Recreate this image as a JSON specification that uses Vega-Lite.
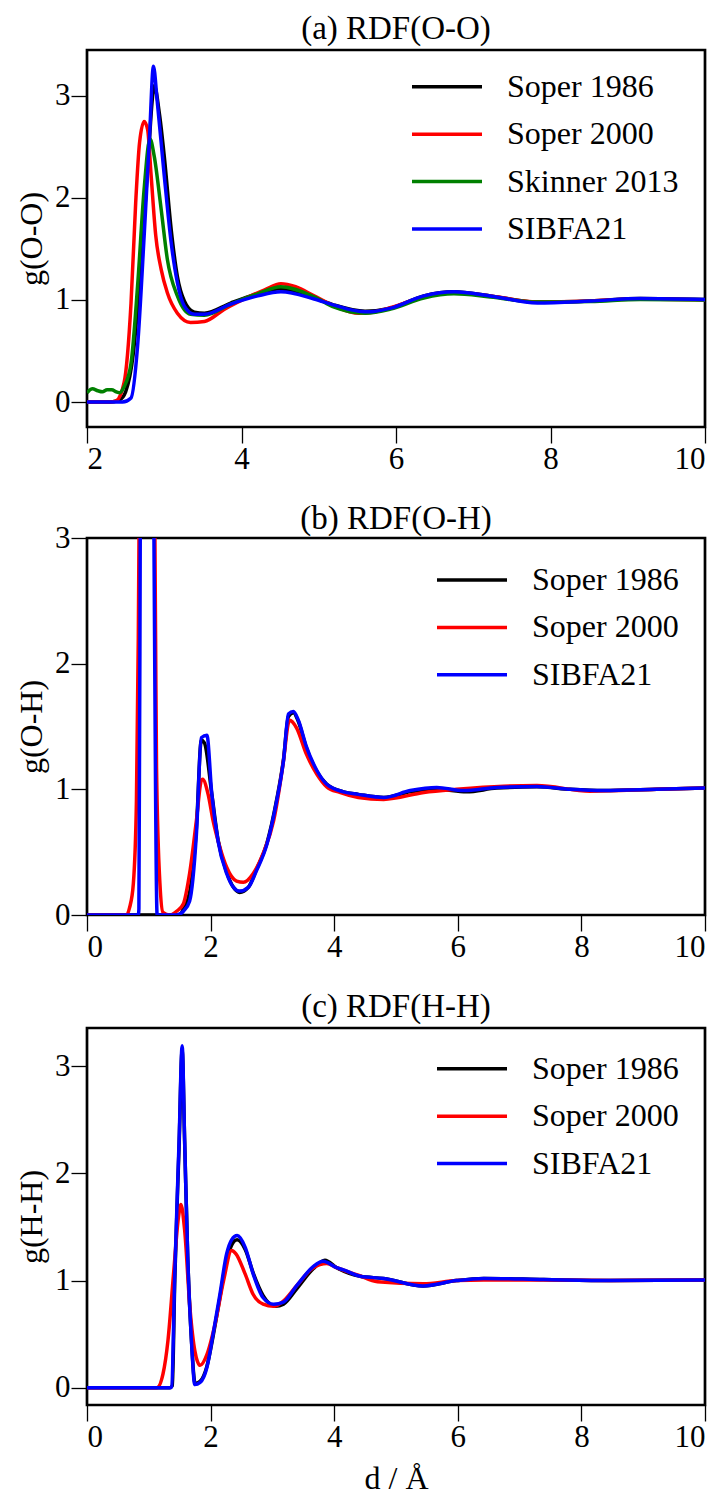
{
  "$schema": "https://vega.github.io/schema/vega-lite/v6.json",
  "background": "white",
  "padding": {"left": 14, "top": 11, "right": 4, "bottom": 0},
  "spacing": 25,
  "resolve": {"scale": {"color": "independent"}, "legend": {"color": "independent"}},
  "config": {
    "font": "Liberation Serif",
    "view": {"stroke": "black", "strokeWidth": 2.7},
    "axis": {"grid": false, "domain": false, "tickColor": "black", "tickWidth": 1.3, "tickSize": 16, "labelFont": "Liberation Serif", "labelFontSize": 31, "labelColor": "black", "labelPadding": 1, "titleFont": "Liberation Serif", "titleFontSize": 32, "titleFontWeight": "normal", "titleColor": "black", "titlePadding": 6},
    "title": {"font": "Liberation Serif", "fontSize": 33, "fontWeight": "normal", "color": "black", "offset": 4, "frame": "group"},
    "legend": {"symbolType": "M-1.4,0L1.4,0", "symbolSize": 2500, "symbolStrokeWidth": 3.5, "labelFont": "Liberation Serif", "labelFontSize": 32, "labelColor": "black", "labelOffset": 33, "labelLimit": 0, "rowPadding": 4.4, "padding": 0}
  },
  "datasets": {
    "oo": [
      {"s": "Soper 1986", "d": 2.0, "g": 0}, {"s": "Soper 1986", "d": 2.3, "g": 0}, {"s": "Soper 1986", "d": 2.42, "g": 0.02}, {"s": "Soper 1986", "d": 2.5, "g": 0.1}, {"s": "Soper 1986", "d": 2.6, "g": 0.48}, {"s": "Soper 1986", "d": 2.7, "g": 1.37}, {"s": "Soper 1986", "d": 2.79, "g": 2.35}, {"s": "Soper 1986", "d": 2.85, "g": 3.0}, {"s": "Soper 1986", "d": 2.87, "g": 3.1}, {"s": "Soper 1986", "d": 2.94, "g": 2.81}, {"s": "Soper 1986", "d": 3.0, "g": 2.41}, {"s": "Soper 1986", "d": 3.09, "g": 1.69}, {"s": "Soper 1986", "d": 3.17, "g": 1.23}, {"s": "Soper 1986", "d": 3.26, "g": 0.99}, {"s": "Soper 1986", "d": 3.39, "g": 0.88}, {"s": "Soper 1986", "d": 3.52, "g": 0.87}, {"s": "Soper 1986", "d": 3.86, "g": 0.97}, {"s": "Soper 1986", "d": 4.21, "g": 1.06}, {"s": "Soper 1986", "d": 4.5, "g": 1.11}, {"s": "Soper 1986", "d": 4.94, "g": 1.02}, {"s": "Soper 1986", "d": 5.2, "g": 0.95}, {"s": "Soper 1986", "d": 5.6, "g": 0.89}, {"s": "Soper 1986", "d": 5.93, "g": 0.92}, {"s": "Soper 1986", "d": 6.36, "g": 1.04}, {"s": "Soper 1986", "d": 6.75, "g": 1.08}, {"s": "Soper 1986", "d": 7.22, "g": 1.04}, {"s": "Soper 1986", "d": 7.83, "g": 0.98}, {"s": "Soper 1986", "d": 8.52, "g": 0.99}, {"s": "Soper 1986", "d": 9.16, "g": 1.015}, {"s": "Soper 1986", "d": 10.0, "g": 1.005},
      {"s": "Soper 2000", "d": 2.0, "g": 0}, {"s": "Soper 2000", "d": 2.3, "g": 0}, {"s": "Soper 2000", "d": 2.375, "g": 0.01}, {"s": "Soper 2000", "d": 2.48, "g": 0.19}, {"s": "Soper 2000", "d": 2.57, "g": 0.97}, {"s": "Soper 2000", "d": 2.63, "g": 1.95}, {"s": "Soper 2000", "d": 2.68, "g": 2.54}, {"s": "Soper 2000", "d": 2.74, "g": 2.75}, {"s": "Soper 2000", "d": 2.785, "g": 2.67}, {"s": "Soper 2000", "d": 2.83, "g": 2.22}, {"s": "Soper 2000", "d": 2.89, "g": 1.63}, {"s": "Soper 2000", "d": 2.96, "g": 1.3}, {"s": "Soper 2000", "d": 3.04, "g": 1.07}, {"s": "Soper 2000", "d": 3.17, "g": 0.87}, {"s": "Soper 2000", "d": 3.34, "g": 0.78}, {"s": "Soper 2000", "d": 3.52, "g": 0.79}, {"s": "Soper 2000", "d": 3.78, "g": 0.91}, {"s": "Soper 2000", "d": 4.12, "g": 1.04}, {"s": "Soper 2000", "d": 4.3, "g": 1.1}, {"s": "Soper 2000", "d": 4.51, "g": 1.16}, {"s": "Soper 2000", "d": 4.7, "g": 1.13}, {"s": "Soper 2000", "d": 4.94, "g": 1.04}, {"s": "Soper 2000", "d": 5.2, "g": 0.94}, {"s": "Soper 2000", "d": 5.52, "g": 0.87}, {"s": "Soper 2000", "d": 5.7, "g": 0.88}, {"s": "Soper 2000", "d": 5.95, "g": 0.93}, {"s": "Soper 2000", "d": 6.36, "g": 1.03}, {"s": "Soper 2000", "d": 6.75, "g": 1.07}, {"s": "Soper 2000", "d": 7.22, "g": 1.04}, {"s": "Soper 2000", "d": 7.83, "g": 0.98}, {"s": "Soper 2000", "d": 8.52, "g": 0.99}, {"s": "Soper 2000", "d": 9.16, "g": 1.01}, {"s": "Soper 2000", "d": 10.0, "g": 1.0},
      {"s": "Skinner 2013", "d": 2.0, "g": 0.09}, {"s": "Skinner 2013", "d": 2.07, "g": 0.13}, {"s": "Skinner 2013", "d": 2.14, "g": 0.11}, {"s": "Skinner 2013", "d": 2.2, "g": 0.1}, {"s": "Skinner 2013", "d": 2.26, "g": 0.12}, {"s": "Skinner 2013", "d": 2.32, "g": 0.12}, {"s": "Skinner 2013", "d": 2.38, "g": 0.1}, {"s": "Skinner 2013", "d": 2.42, "g": 0.09}, {"s": "Skinner 2013", "d": 2.48, "g": 0.15}, {"s": "Skinner 2013", "d": 2.57, "g": 0.38}, {"s": "Skinner 2013", "d": 2.655, "g": 1.14}, {"s": "Skinner 2013", "d": 2.74, "g": 2.09}, {"s": "Skinner 2013", "d": 2.815, "g": 2.58}, {"s": "Skinner 2013", "d": 2.87, "g": 2.41}, {"s": "Skinner 2013", "d": 2.96, "g": 1.89}, {"s": "Skinner 2013", "d": 3.04, "g": 1.4}, {"s": "Skinner 2013", "d": 3.17, "g": 1.04}, {"s": "Skinner 2013", "d": 3.34, "g": 0.86}, {"s": "Skinner 2013", "d": 3.52, "g": 0.85}, {"s": "Skinner 2013", "d": 3.86, "g": 0.96}, {"s": "Skinner 2013", "d": 4.21, "g": 1.06}, {"s": "Skinner 2013", "d": 4.51, "g": 1.13}, {"s": "Skinner 2013", "d": 4.94, "g": 1.03}, {"s": "Skinner 2013", "d": 5.2, "g": 0.93}, {"s": "Skinner 2013", "d": 5.6, "g": 0.87}, {"s": "Skinner 2013", "d": 5.93, "g": 0.91}, {"s": "Skinner 2013", "d": 6.36, "g": 1.02}, {"s": "Skinner 2013", "d": 6.75, "g": 1.06}, {"s": "Skinner 2013", "d": 7.22, "g": 1.03}, {"s": "Skinner 2013", "d": 7.83, "g": 0.98}, {"s": "Skinner 2013", "d": 8.52, "g": 0.985}, {"s": "Skinner 2013", "d": 9.16, "g": 1.005}, {"s": "Skinner 2013", "d": 10.0, "g": 1.0},
      {"s": "SIBFA21", "d": 2.0, "g": 0}, {"s": "SIBFA21", "d": 2.46, "g": 0}, {"s": "SIBFA21", "d": 2.57, "g": 0.04}, {"s": "SIBFA21", "d": 2.655, "g": 0.55}, {"s": "SIBFA21", "d": 2.74, "g": 1.63}, {"s": "SIBFA21", "d": 2.81, "g": 2.61}, {"s": "SIBFA21", "d": 2.86, "g": 3.29}, {"s": "SIBFA21", "d": 2.91, "g": 2.94}, {"s": "SIBFA21", "d": 3.0, "g": 2.22}, {"s": "SIBFA21", "d": 3.09, "g": 1.56}, {"s": "SIBFA21", "d": 3.17, "g": 1.17}, {"s": "SIBFA21", "d": 3.26, "g": 0.94}, {"s": "SIBFA21", "d": 3.39, "g": 0.86}, {"s": "SIBFA21", "d": 3.52, "g": 0.86}, {"s": "SIBFA21", "d": 3.86, "g": 0.96}, {"s": "SIBFA21", "d": 4.21, "g": 1.04}, {"s": "SIBFA21", "d": 4.51, "g": 1.08}, {"s": "SIBFA21", "d": 4.94, "g": 1.01}, {"s": "SIBFA21", "d": 5.2, "g": 0.95}, {"s": "SIBFA21", "d": 5.52, "g": 0.89}, {"s": "SIBFA21", "d": 5.67, "g": 0.885}, {"s": "SIBFA21", "d": 5.93, "g": 0.92}, {"s": "SIBFA21", "d": 6.36, "g": 1.04}, {"s": "SIBFA21", "d": 6.75, "g": 1.08}, {"s": "SIBFA21", "d": 7.22, "g": 1.04}, {"s": "SIBFA21", "d": 7.83, "g": 0.97}, {"s": "SIBFA21", "d": 8.52, "g": 0.99}, {"s": "SIBFA21", "d": 9.16, "g": 1.015}, {"s": "SIBFA21", "d": 10.0, "g": 1.005}
    ],
    "oh": [
      {"s": "Soper 1986", "d": 0, "g": 0}, {"s": "Soper 1986", "d": 1.5, "g": 0}, {"s": "Soper 1986", "d": 1.56, "g": 0.05}, {"s": "Soper 1986", "d": 1.66, "g": 0.18}, {"s": "Soper 1986", "d": 1.77, "g": 0.69}, {"s": "Soper 1986", "d": 1.85, "g": 1.39}, {"s": "Soper 1986", "d": 1.9, "g": 1.37}, {"s": "Soper 1986", "d": 2.02, "g": 0.96}, {"s": "Soper 1986", "d": 2.12, "g": 0.6}, {"s": "Soper 1986", "d": 2.26, "g": 0.34}, {"s": "Soper 1986", "d": 2.37, "g": 0.22}, {"s": "Soper 1986", "d": 2.47, "g": 0.18}, {"s": "Soper 1986", "d": 2.61, "g": 0.22}, {"s": "Soper 1986", "d": 2.74, "g": 0.36}, {"s": "Soper 1986", "d": 2.91, "g": 0.57}, {"s": "Soper 1986", "d": 3.07, "g": 0.92}, {"s": "Soper 1986", "d": 3.18, "g": 1.24}, {"s": "Soper 1986", "d": 3.26, "g": 1.58}, {"s": "Soper 1986", "d": 3.34, "g": 1.61}, {"s": "Soper 1986", "d": 3.42, "g": 1.54}, {"s": "Soper 1986", "d": 3.55, "g": 1.33}, {"s": "Soper 1986", "d": 3.72, "g": 1.14}, {"s": "Soper 1986", "d": 3.88, "g": 1.04}, {"s": "Soper 1986", "d": 4.15, "g": 0.98}, {"s": "Soper 1986", "d": 4.39, "g": 0.96}, {"s": "Soper 1986", "d": 4.8, "g": 0.935}, {"s": "Soper 1986", "d": 5.23, "g": 0.98}, {"s": "Soper 1986", "d": 5.66, "g": 1.0}, {"s": "Soper 1986", "d": 6.14, "g": 0.98}, {"s": "Soper 1986", "d": 6.63, "g": 1.01}, {"s": "Soper 1986", "d": 7.28, "g": 1.02}, {"s": "Soper 1986", "d": 7.82, "g": 1.0}, {"s": "Soper 1986", "d": 8.36, "g": 0.99}, {"s": "Soper 1986", "d": 9.22, "g": 1.0}, {"s": "Soper 1986", "d": 10.0, "g": 1.01},
      {"s": "Soper 2000", "d": 0, "g": 0}, {"s": "Soper 2000", "d": 0.64, "g": 0}, {"s": "Soper 2000", "d": 0.69, "g": 0.06}, {"s": "Soper 2000", "d": 0.75, "g": 0.25}, {"s": "Soper 2000", "d": 0.8, "g": 0.91}, {"s": "Soper 2000", "d": 0.83, "g": 2.2}, {"s": "Soper 2000", "d": 0.85, "g": 3.6}, {"s": "Soper 2000", "d": 0.95, "g": 9}, {"s": "Soper 2000", "d": 1.09, "g": 3.6}, {"s": "Soper 2000", "d": 1.11, "g": 2.2}, {"s": "Soper 2000", "d": 1.125, "g": 1.17}, {"s": "Soper 2000", "d": 1.18, "g": 0.25}, {"s": "Soper 2000", "d": 1.23, "g": 0.02}, {"s": "Soper 2000", "d": 1.34, "g": 0}, {"s": "Soper 2000", "d": 1.45, "g": 0.03}, {"s": "Soper 2000", "d": 1.56, "g": 0.09}, {"s": "Soper 2000", "d": 1.66, "g": 0.33}, {"s": "Soper 2000", "d": 1.77, "g": 0.75}, {"s": "Soper 2000", "d": 1.85, "g": 1.07}, {"s": "Soper 2000", "d": 1.87, "g": 1.08}, {"s": "Soper 2000", "d": 1.96, "g": 0.96}, {"s": "Soper 2000", "d": 2.04, "g": 0.75}, {"s": "Soper 2000", "d": 2.15, "g": 0.54}, {"s": "Soper 2000", "d": 2.26, "g": 0.38}, {"s": "Soper 2000", "d": 2.42, "g": 0.27}, {"s": "Soper 2000", "d": 2.53, "g": 0.26}, {"s": "Soper 2000", "d": 2.69, "g": 0.33}, {"s": "Soper 2000", "d": 2.85, "g": 0.49}, {"s": "Soper 2000", "d": 3.02, "g": 0.75}, {"s": "Soper 2000", "d": 3.18, "g": 1.23}, {"s": "Soper 2000", "d": 3.26, "g": 1.53}, {"s": "Soper 2000", "d": 3.28, "g": 1.55}, {"s": "Soper 2000", "d": 3.39, "g": 1.49}, {"s": "Soper 2000", "d": 3.55, "g": 1.28}, {"s": "Soper 2000", "d": 3.72, "g": 1.12}, {"s": "Soper 2000", "d": 3.88, "g": 1.02}, {"s": "Soper 2000", "d": 4.09, "g": 0.975}, {"s": "Soper 2000", "d": 4.39, "g": 0.935}, {"s": "Soper 2000", "d": 4.8, "g": 0.92}, {"s": "Soper 2000", "d": 5.45, "g": 0.975}, {"s": "Soper 2000", "d": 5.98, "g": 1.0}, {"s": "Soper 2000", "d": 6.74, "g": 1.025}, {"s": "Soper 2000", "d": 7.28, "g": 1.03}, {"s": "Soper 2000", "d": 8.14, "g": 0.985}, {"s": "Soper 2000", "d": 9.22, "g": 1.0}, {"s": "Soper 2000", "d": 10.0, "g": 1.01},
      {"s": "SIBFA21", "d": 0, "g": 0}, {"s": "SIBFA21", "d": 0.83, "g": 0}, {"s": "SIBFA21", "d": 0.84, "g": 0.05}, {"s": "SIBFA21", "d": 0.865, "g": 3.6}, {"s": "SIBFA21", "d": 0.96, "g": 12}, {"s": "SIBFA21", "d": 1.075, "g": 3.6}, {"s": "SIBFA21", "d": 1.135, "g": 0.0}, {"s": "SIBFA21", "d": 1.45, "g": 0}, {"s": "SIBFA21", "d": 1.56, "g": 0.03}, {"s": "SIBFA21", "d": 1.66, "g": 0.11}, {"s": "SIBFA21", "d": 1.77, "g": 0.64}, {"s": "SIBFA21", "d": 1.85, "g": 1.41}, {"s": "SIBFA21", "d": 1.94, "g": 1.43}, {"s": "SIBFA21", "d": 2.02, "g": 0.96}, {"s": "SIBFA21", "d": 2.12, "g": 0.59}, {"s": "SIBFA21", "d": 2.26, "g": 0.33}, {"s": "SIBFA21", "d": 2.37, "g": 0.22}, {"s": "SIBFA21", "d": 2.47, "g": 0.19}, {"s": "SIBFA21", "d": 2.61, "g": 0.22}, {"s": "SIBFA21", "d": 2.74, "g": 0.35}, {"s": "SIBFA21", "d": 2.91, "g": 0.56}, {"s": "SIBFA21", "d": 3.07, "g": 0.91}, {"s": "SIBFA21", "d": 3.18, "g": 1.23}, {"s": "SIBFA21", "d": 3.26, "g": 1.6}, {"s": "SIBFA21", "d": 3.34, "g": 1.62}, {"s": "SIBFA21", "d": 3.42, "g": 1.55}, {"s": "SIBFA21", "d": 3.55, "g": 1.34}, {"s": "SIBFA21", "d": 3.72, "g": 1.15}, {"s": "SIBFA21", "d": 3.88, "g": 1.04}, {"s": "SIBFA21", "d": 4.15, "g": 0.98}, {"s": "SIBFA21", "d": 4.39, "g": 0.96}, {"s": "SIBFA21", "d": 4.8, "g": 0.935}, {"s": "SIBFA21", "d": 5.23, "g": 0.99}, {"s": "SIBFA21", "d": 5.66, "g": 1.015}, {"s": "SIBFA21", "d": 6.09, "g": 0.99}, {"s": "SIBFA21", "d": 6.63, "g": 1.015}, {"s": "SIBFA21", "d": 7.28, "g": 1.023}, {"s": "SIBFA21", "d": 7.82, "g": 1.0}, {"s": "SIBFA21", "d": 8.36, "g": 0.99}, {"s": "SIBFA21", "d": 9.22, "g": 1.0}, {"s": "SIBFA21", "d": 10.0, "g": 1.01}
    ],
    "hh": [
      {"s": "Soper 1986", "d": 0, "g": 0}, {"s": "Soper 1986", "d": 1.34, "g": 0}, {"s": "Soper 1986", "d": 1.38, "g": 0.02}, {"s": "Soper 1986", "d": 1.42, "g": 1.0}, {"s": "Soper 1986", "d": 1.49, "g": 2.25}, {"s": "Soper 1986", "d": 1.54, "g": 3.15}, {"s": "Soper 1986", "d": 1.58, "g": 2.3}, {"s": "Soper 1986", "d": 1.63, "g": 1.22}, {"s": "Soper 1986", "d": 1.69, "g": 0.45}, {"s": "Soper 1986", "d": 1.75, "g": 0.04}, {"s": "Soper 1986", "d": 1.83, "g": 0.06}, {"s": "Soper 1986", "d": 1.94, "g": 0.2}, {"s": "Soper 1986", "d": 2.04, "g": 0.48}, {"s": "Soper 1986", "d": 2.15, "g": 0.84}, {"s": "Soper 1986", "d": 2.26, "g": 1.2}, {"s": "Soper 1986", "d": 2.34, "g": 1.33}, {"s": "Soper 1986", "d": 2.43, "g": 1.38}, {"s": "Soper 1986", "d": 2.56, "g": 1.29}, {"s": "Soper 1986", "d": 2.69, "g": 1.07}, {"s": "Soper 1986", "d": 2.85, "g": 0.86}, {"s": "Soper 1986", "d": 3.05, "g": 0.76}, {"s": "Soper 1986", "d": 3.18, "g": 0.78}, {"s": "Soper 1986", "d": 3.39, "g": 0.92}, {"s": "Soper 1986", "d": 3.66, "g": 1.11}, {"s": "Soper 1986", "d": 3.85, "g": 1.19}, {"s": "Soper 1986", "d": 4.04, "g": 1.12}, {"s": "Soper 1986", "d": 4.42, "g": 1.04}, {"s": "Soper 1986", "d": 4.8, "g": 1.02}, {"s": "Soper 1986", "d": 5.44, "g": 0.95}, {"s": "Soper 1986", "d": 5.98, "g": 1.0}, {"s": "Soper 1986", "d": 6.42, "g": 1.02}, {"s": "Soper 1986", "d": 7.39, "g": 1.01}, {"s": "Soper 1986", "d": 8.47, "g": 1.0}, {"s": "Soper 1986", "d": 10.0, "g": 1.005},
      {"s": "Soper 2000", "d": 0, "g": 0}, {"s": "Soper 2000", "d": 1.13, "g": 0}, {"s": "Soper 2000", "d": 1.23, "g": 0.13}, {"s": "Soper 2000", "d": 1.31, "g": 0.44}, {"s": "Soper 2000", "d": 1.4, "g": 1.06}, {"s": "Soper 2000", "d": 1.48, "g": 1.59}, {"s": "Soper 2000", "d": 1.52, "g": 1.71}, {"s": "Soper 2000", "d": 1.58, "g": 1.47}, {"s": "Soper 2000", "d": 1.665, "g": 0.75}, {"s": "Soper 2000", "d": 1.745, "g": 0.345}, {"s": "Soper 2000", "d": 1.83, "g": 0.21}, {"s": "Soper 2000", "d": 1.94, "g": 0.31}, {"s": "Soper 2000", "d": 2.07, "g": 0.59}, {"s": "Soper 2000", "d": 2.21, "g": 1.0}, {"s": "Soper 2000", "d": 2.34, "g": 1.28}, {"s": "Soper 2000", "d": 2.41, "g": 1.25}, {"s": "Soper 2000", "d": 2.56, "g": 1.06}, {"s": "Soper 2000", "d": 2.69, "g": 0.87}, {"s": "Soper 2000", "d": 2.85, "g": 0.78}, {"s": "Soper 2000", "d": 3.02, "g": 0.76}, {"s": "Soper 2000", "d": 3.18, "g": 0.81}, {"s": "Soper 2000", "d": 3.39, "g": 0.95}, {"s": "Soper 2000", "d": 3.66, "g": 1.12}, {"s": "Soper 2000", "d": 3.88, "g": 1.16}, {"s": "Soper 2000", "d": 4.04, "g": 1.12}, {"s": "Soper 2000", "d": 4.39, "g": 1.05}, {"s": "Soper 2000", "d": 4.7, "g": 0.99}, {"s": "Soper 2000", "d": 5.44, "g": 0.97}, {"s": "Soper 2000", "d": 5.98, "g": 1.0}, {"s": "Soper 2000", "d": 6.42, "g": 1.005}, {"s": "Soper 2000", "d": 7.39, "g": 1.005}, {"s": "Soper 2000", "d": 8.47, "g": 1.0}, {"s": "Soper 2000", "d": 10.0, "g": 1.005},
      {"s": "SIBFA21", "d": 0, "g": 0}, {"s": "SIBFA21", "d": 1.34, "g": 0}, {"s": "SIBFA21", "d": 1.37, "g": 0.01}, {"s": "SIBFA21", "d": 1.42, "g": 1.06}, {"s": "SIBFA21", "d": 1.49, "g": 2.3}, {"s": "SIBFA21", "d": 1.54, "g": 3.19}, {"s": "SIBFA21", "d": 1.58, "g": 2.3}, {"s": "SIBFA21", "d": 1.63, "g": 1.21}, {"s": "SIBFA21", "d": 1.69, "g": 0.44}, {"s": "SIBFA21", "d": 1.745, "g": 0.03}, {"s": "SIBFA21", "d": 1.83, "g": 0.05}, {"s": "SIBFA21", "d": 1.94, "g": 0.19}, {"s": "SIBFA21", "d": 2.04, "g": 0.5}, {"s": "SIBFA21", "d": 2.15, "g": 0.87}, {"s": "SIBFA21", "d": 2.26, "g": 1.25}, {"s": "SIBFA21", "d": 2.34, "g": 1.38}, {"s": "SIBFA21", "d": 2.43, "g": 1.42}, {"s": "SIBFA21", "d": 2.56, "g": 1.31}, {"s": "SIBFA21", "d": 2.69, "g": 1.06}, {"s": "SIBFA21", "d": 2.85, "g": 0.84}, {"s": "SIBFA21", "d": 3.02, "g": 0.78}, {"s": "SIBFA21", "d": 3.18, "g": 0.8}, {"s": "SIBFA21", "d": 3.39, "g": 0.95}, {"s": "SIBFA21", "d": 3.66, "g": 1.13}, {"s": "SIBFA21", "d": 3.82, "g": 1.18}, {"s": "SIBFA21", "d": 4.04, "g": 1.12}, {"s": "SIBFA21", "d": 4.15, "g": 1.1}, {"s": "SIBFA21", "d": 4.42, "g": 1.04}, {"s": "SIBFA21", "d": 4.8, "g": 1.02}, {"s": "SIBFA21", "d": 5.44, "g": 0.95}, {"s": "SIBFA21", "d": 5.98, "g": 1.0}, {"s": "SIBFA21", "d": 6.42, "g": 1.02}, {"s": "SIBFA21", "d": 7.39, "g": 1.01}, {"s": "SIBFA21", "d": 8.47, "g": 1.0}, {"s": "SIBFA21", "d": 10.0, "g": 1.005}
    ]
  },
  "vconcat": [
    {
      "title": "(a) RDF(O-O)",
      "width": 618, "height": 377,
      "data": {"name": "oo"},
      "mark": {"type": "line", "strokeWidth": 3.5, "clip": true, "interpolate": "monotone"},
      "encoding": {
        "x": {"field": "d", "type": "quantitative", "scale": {"domain": [2, 10], "nice": false, "zero": false}, "axis": {"values": [2, 4, 6, 8, 10], "title": null}},
        "y": {"field": "g", "type": "quantitative", "scale": {"domain": [-0.245, 3.45], "nice": false, "zero": false}, "axis": {"values": [0, 1, 2, 3], "title": "g(O-O)"}},
        "color": {"field": "s", "type": "nominal", "sort": null, "scale": {"domain": ["Soper 1986", "Soper 2000", "Skinner 2013", "SIBFA21"], "range": ["#000000", "#ff0000", "#008000", "#0000ff"]}, "legend": {"orient": "none", "legendX": 333, "legendY": 9.8, "title": null}}
      }
    },
    {
      "title": {"text": "(b) RDF(O-H)", "offset": -14},
      "width": 618, "height": 377,
      "data": {"name": "oh"},
      "mark": {"type": "line", "strokeWidth": 3.5, "clip": true, "interpolate": "monotone"},
      "encoding": {
        "x": {"field": "d", "type": "quantitative", "scale": {"domain": [0, 10], "nice": false}, "axis": {"values": [0, 2, 4, 6, 8, 10], "title": null}},
        "y": {"field": "g", "type": "quantitative", "scale": {"domain": [0, 3], "nice": false}, "axis": {"values": [0, 1, 2, 3], "title": "g(O-H)"}},
        "color": {"field": "s", "type": "nominal", "sort": null, "scale": {"domain": ["Soper 1986", "Soper 2000", "SIBFA21"], "range": ["#000000", "#ff0000", "#0000ff"]}, "legend": {"orient": "none", "legendX": 358, "legendY": 15, "title": null}}
      }
    },
    {
      "title": "(c) RDF(H-H)",
      "width": 618, "height": 377,
      "data": {"name": "hh"},
      "mark": {"type": "line", "strokeWidth": 3.5, "clip": true, "interpolate": "monotone"},
      "encoding": {
        "x": {"field": "d", "type": "quantitative", "scale": {"domain": [0, 10], "nice": false}, "axis": {"values": [0, 2, 4, 6, 8, 10], "title": "d / Å", "titlePadding": 11}},
        "y": {"field": "g", "type": "quantitative", "scale": {"domain": [-0.16, 3.355], "nice": false, "zero": false}, "axis": {"values": [0, 1, 2, 3], "title": "g(H-H)"}},
        "color": {"field": "s", "type": "nominal", "sort": null, "scale": {"domain": ["Soper 1986", "Soper 2000", "SIBFA21"], "range": ["#000000", "#ff0000", "#0000ff"]}, "legend": {"orient": "none", "legendX": 358, "legendY": 13.8, "title": null}}
      }
    }
  ]
}
